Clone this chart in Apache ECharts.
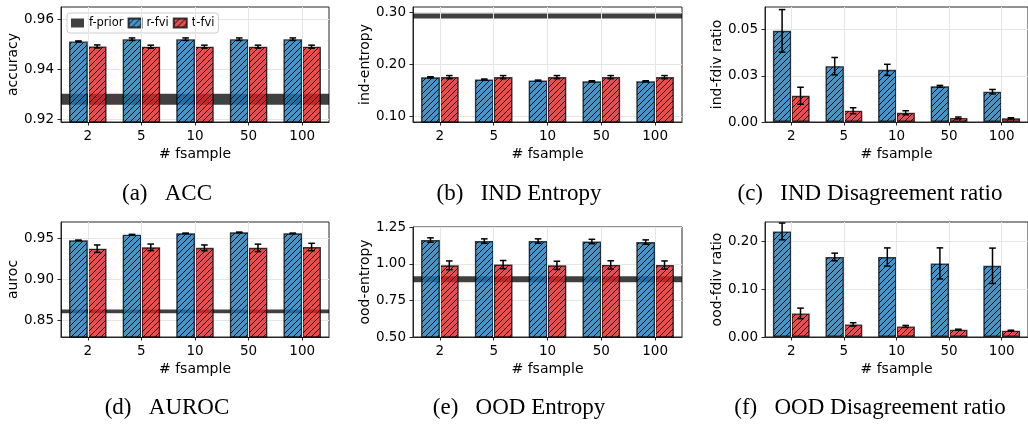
<!DOCTYPE html>
<html><head><meta charset="utf-8">
<script src="https://cdn.jsdelivr.net/npm/echarts@6/dist/echarts.min.js"></script>
<style>html,body{margin:0;padding:0;background:#fff}#c{width:1028px;height:424px}</style>
</head><body><div id="c"></div>
<script>
// ---------------- data ----------------
const categories = ['2', '5', '10', '50', '100'];

const accR = [0.9511, 0.9520, 0.9520, 0.9520, 0.9520];
const accRErr = [0.0002, 0.0005, 0.0005, 0.0005, 0.0005];
const accT = [0.9491, 0.9490, 0.9490, 0.9490, 0.9490];
const accTErr = [0.0006, 0.0006, 0.0006, 0.0006, 0.0006];
const accPrior = [0.9279, 0.0022];
const accTicks = [0.92, 0.94, 0.96];

const indEntR = [0.1757, 0.1713, 0.1693, 0.1680, 0.1680];
const indEntRErr = [0.0010, 0.0010, 0.0010, 0.0010, 0.0010];
const indEntT = [0.1760, 0.1760, 0.1760, 0.1760, 0.1760];
const indEntTErr = [0.0030, 0.0030, 0.0030, 0.0030, 0.0030];
const indEntPrior = [0.2933, 0.0048];
const indEntTicks = [0.10, 0.20, 0.30];

const indDivR = [0.0493, 0.0302, 0.0282, 0.0193, 0.0164];
const indDivRErr = [0.0115, 0.0047, 0.0030, 0.0005, 0.0012];
const indDivT = [0.0142, 0.0061, 0.0050, 0.0022, 0.0020];
const indDivTErr = [0.0046, 0.0016, 0.0011, 0.0005, 0.0003];
const indDivTicks = [0, 0.025, 0.05];

const aurocR = [0.9476, 0.9545, 0.9561, 0.9573, 0.9561];
const aurocRErr = [0.0003, 0.0004, 0.0003, 0.0003, 0.0003];
const aurocT = [0.9375, 0.9391, 0.9385, 0.9385, 0.9395];
const aurocTErr = [0.0045, 0.0040, 0.0035, 0.0045, 0.0045];
const aurocPrior = [0.8613, 0.0022];
const aurocTicks = [0.85, 0.90, 0.95];

const oodEntR = [1.163, 1.156, 1.156, 1.153, 1.149];
const oodEntRErr = [0.015, 0.015, 0.015, 0.015, 0.015];
const oodEntT = [0.990, 0.995, 0.990, 0.993, 0.992];
const oodEntTErr = [0.030, 0.028, 0.028, 0.028, 0.028];
const oodEntPrior = [0.895, 0.021];
const oodEntTicks = [0.50, 0.75, 1.00, 1.25];

const oodDivR = [0.2209, 0.1674, 0.1674, 0.1540, 0.1490];
const oodDivRErr = [0.0175, 0.0080, 0.0190, 0.0325, 0.0370];
const oodDivT = [0.0494, 0.0264, 0.0222, 0.0153, 0.0132];
const oodDivTErr = [0.0110, 0.0035, 0.0020, 0.0010, 0.0010];
const oodDivTicks = [0, 0.10, 0.20];

const captions = ['(a)   ACC', '(b)   IND Entropy', '(c)   IND Disagreement ratio',
                  '(d)   AUROC', '(e)   OOD Entropy', '(f)   OOD Disagreement ratio'];

// ---------------- layout / style ----------------
const FONT = 'DejaVu Sans';
const panels = [
  {yName: 'accuracy', r: accR, rE: accRErr, t: accT, tE: accTErr, prior: accPrior, ticks: accTicks,
   min: 0.9188, max: 0.9649, grid: {left: 61, top: 7, width: 268, height: 115}, nameGap: 41},
  {yName: 'ind-entropy', r: indEntR, rE: indEntRErr, t: indEntT, tE: indEntTErr, prior: indEntPrior, ticks: indEntTicks,
   min: 0.0898, max: 0.3107, grid: {left: 413, top: 7, width: 269, height: 115}, nameGap: 41},
  {yName: 'ind-fdiv ratio', r: indDivR, rE: indDivRErr, t: indDivT, tE: indDivTErr, prior: null, ticks: indDivTicks,
   min: 0, max: 0.0622, grid: {left: 765, top: 7, width: 268, height: 115}, nameGap: 41},
  {yName: 'auroc', r: aurocR, rE: aurocRErr, t: aurocT, tE: aurocTErr, prior: aurocPrior, ticks: aurocTicks,
   min: 0.8302, max: 0.9699, grid: {left: 61, top: 222, width: 268, height: 115}, nameGap: 41},
  {yName: 'ood-entropy', r: oodEntR, rE: oodEntRErr, t: oodEntT, tE: oodEntTErr, prior: oodEntPrior, ticks: oodEntTicks,
   min: 0.5, max: 1.252, grid: {left: 413, top: 227, width: 269, height: 110}, nameGap: 38},
  {yName: 'ood-fdiv ratio', r: oodDivR, rE: oodDivRErr, t: oodDivT, tE: oodDivTErr, prior: null, ticks: oodDivTicks,
   min: 0, max: 0.2406, grid: {left: 765, top: 222, width: 268, height: 115}, nameGap: 41}
];
const capPos = [[167, 194], [519, 194], [870, 194], [167, 408], [519, 408], [870, 408]];

function hatch(rgba) {
  const s = 6, cv = document.createElement('canvas');
  cv.width = s; cv.height = s;
  const g = cv.getContext('2d');
  g.fillStyle = rgba; g.fillRect(0, 0, s, s);
  g.strokeStyle = 'rgba(0,0,0,0.9)'; g.lineWidth = 1;
  g.beginPath();
  g.moveTo(0, s); g.lineTo(s, 0);
  g.moveTo(-1, 1); g.lineTo(1, -1);
  g.moveTo(s - 1, s + 1); g.lineTo(s + 1, s - 1);
  g.stroke();
  return {image: cv, repeat: 'repeat'};
}
const blueFill = hatch('rgba(31,119,180,0.8)');
const redFill = hatch('rgba(214,39,40,0.8)');
const SPINE = '#262626';
const GRIDC = '#e6e6e6';

function errRender(offset) {
  return function (params, api) {
    const i = api.value(0), v = api.value(1), e = api.value(2);
    const bw = api.size([1, 0])[0];
    const x = api.coord([i, v])[0] + offset * bw;
    const yt = api.coord([i, v + e])[1];
    const yb = api.coord([i, v - e])[1];
    const st = {stroke: '#000', lineWidth: 1.5};
    const h = 3.3;
    return {type: 'group', children: [
      {type: 'line', shape: {x1: x, y1: yt, x2: x, y2: yb}, style: st},
      {type: 'line', shape: {x1: x - h, y1: yt, x2: x + h, y2: yt}, style: st},
      {type: 'line', shape: {x1: x - h, y1: yb, x2: x + h, y2: yb}, style: st}
    ]};
  };
}

const grids = [], xAxes = [], yAxes = [], series = [];
panels.forEach((p, i) => {
  grids.push(Object.assign({show: true, borderColor: SPINE, borderWidth: 1, backgroundColor: 'transparent'}, p.grid));
  xAxes.push({
    type: 'category', gridIndex: i, data: categories,
    name: '# fsample', nameLocation: 'middle', nameGap: 25,
    nameTextStyle: {fontFamily: FONT, fontSize: 14, color: '#000'},
    axisLine: {show: true, lineStyle: {color: SPINE}},
    axisTick: {show: true, alignWithLabel: true, length: 3.5, lineStyle: {color: SPINE}},
    axisLabel: {fontFamily: FONT, fontSize: 13.5, color: '#000', margin: 7},
    splitLine: {show: false}
  });
  yAxes.push({
    type: 'value', gridIndex: i, min: p.min, max: p.max,
    name: p.yName, nameLocation: 'middle', nameRotate: 90, nameGap: p.nameGap,
    nameTextStyle: {fontFamily: FONT, fontSize: 14, color: '#000'},
    axisLine: {show: true, lineStyle: {color: SPINE}},
    axisTick: {show: true, length: 3.5, lineStyle: {color: SPINE}, customValues: p.ticks},
    axisLabel: {customValues: p.ticks, formatter: v => v.toFixed(2), fontFamily: FONT, fontSize: 13.5, color: '#000', margin: 7},
    splitLine: {show: true, lineStyle: {color: GRIDC, width: 1}}
  });
  series.push({
    type: 'line', name: 'vgrid' + i, xAxisIndex: i, yAxisIndex: i, data: [], z: 0, silent: true,
    markLine: {silent: true, symbol: ['none', 'none'], label: {show: false}, animation: false,
      lineStyle: {color: GRIDC, width: 1, type: 'solid'},
      data: categories.map(c => ({xAxis: c}))}
  });
  if (p.prior) {
    series.push({
      type: 'line', name: 'f-prior', xAxisIndex: i, yAxisIndex: i, data: [], z: 1,
      itemStyle: {color: '#404040'}, lineStyle: {color: '#404040'},
      markArea: {silent: true, animation: false, itemStyle: {color: 'rgba(0,0,0,0.75)'},
        data: [[{yAxis: p.prior[0] - p.prior[1]}, {yAxis: p.prior[0] + p.prior[1]}]]}
    });
  }
  const barStyle = {borderColor: 'rgba(0,0,0,0.75)', borderWidth: 1.4};
  series.push({
    type: 'bar', name: 'r-fvi', xAxisIndex: i, yAxisIndex: i, data: p.r, z: 2,
    barWidth: '35%', barGap: '0%', itemStyle: Object.assign({color: blueFill}, barStyle)
  });
  series.push({
    type: 'bar', name: 't-fvi', xAxisIndex: i, yAxisIndex: i, data: p.t, z: 2,
    barWidth: '35%', barGap: '0%', itemStyle: Object.assign({color: redFill}, barStyle)
  });
  series.push({
    type: 'custom', name: 'err-r' + i, xAxisIndex: i, yAxisIndex: i, z: 3, silent: true,
    renderItem: errRender(-0.175), encode: {x: 0, y: 1},
    data: p.r.map((v, j) => [j, v, p.rE[j]])
  });
  series.push({
    type: 'custom', name: 'err-t' + i, xAxisIndex: i, yAxisIndex: i, z: 3, silent: true,
    renderItem: errRender(0.175), encode: {x: 0, y: 1},
    data: p.t.map((v, j) => [j, v, p.tE[j]])
  });
});

const option = {
  animation: false,
  backgroundColor: '#fff',
  grid: grids, xAxis: xAxes, yAxis: yAxes, series: series,
  legend: {
    left: 67, top: 13, orient: 'horizontal', itemWidth: 13, itemHeight: 9, itemGap: 4,
    padding: [4, 4], backgroundColor: 'rgba(255,255,255,0.8)', borderColor: '#cccccc', borderWidth: 1, borderRadius: 3,
    textStyle: {fontFamily: FONT, fontSize: 11.5, color: '#000'},
    data: [{name: 'f-prior', icon: 'rect'}, {name: 'r-fvi', icon: 'rect'}, {name: 't-fvi', icon: 'rect'}],
    selectedMode: false
  },
  graphic: captions.map((t, i) => ({
    type: 'text', x: capPos[i][0], y: capPos[i][1], silent: true,
    style: {text: t, font: '23px "Liberation Serif"', fill: '#000',
      textAlign: 'center', align: 'center', textVerticalAlign: 'middle', verticalAlign: 'middle'}
  }))
};

const chart = echarts.init(document.getElementById('c'), null, {renderer: 'canvas'});
chart.setOption(option);
</script></body></html>
